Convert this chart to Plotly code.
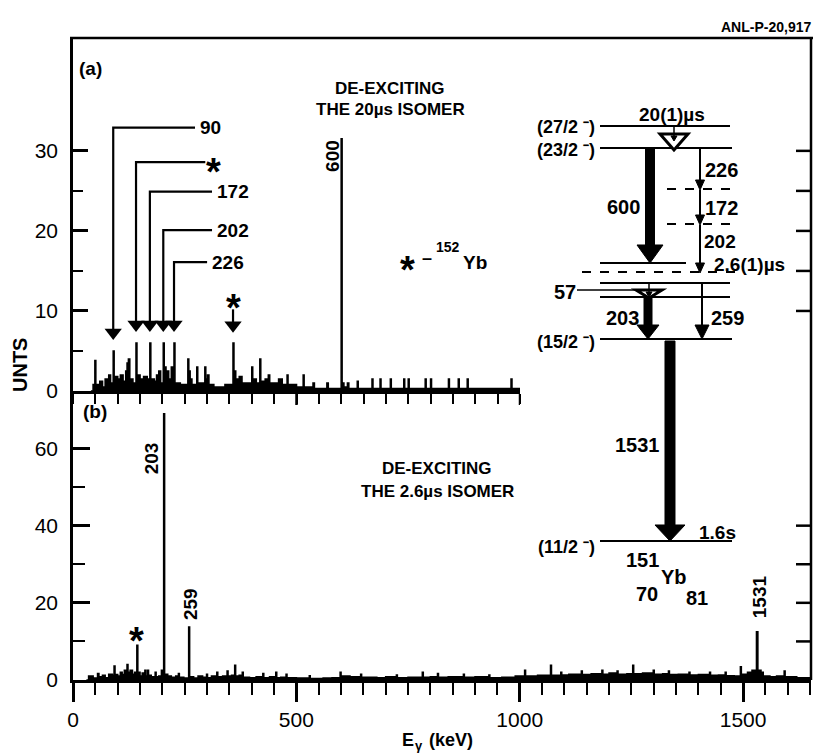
import plotly.graph_objects as go

W, H = 813, 755
def px(x): return x / W
def py(y): return 1 - y / H

FONT = "Liberation Sans, Arial, sans-serif"

# ---------------- data ----------------
# (a) spectrum gated on the 20 us isomer: energy (keV) -> counts (step histogram)
top_energy = [40, 45, 49, 51, 60, 66, 72, 80, 84, 90, 92, 100, 106, 112, 118, 121, 124, 127,
              134, 141, 143, 150, 158, 166, 172, 174, 182, 187, 192, 196, 202, 204, 208, 214,
              220, 223, 226, 228, 240, 257, 259, 262, 266, 277, 279, 295, 297, 301, 304, 315,
              340, 358, 360, 364, 372, 378, 400, 402, 410, 418, 420, 430, 437, 440, 460, 468,
              479, 481, 500, 515, 517, 537, 540, 568, 571, 600, 602, 606, 614, 617, 636, 638,
              669, 671, 687, 689, 710, 712, 740, 742, 750, 752, 788, 790, 800, 802, 840, 842,
              862, 864, 882, 884, 980, 982, 1000]
top_counts = [0, 0.8, 3.8, 0.8, 1.2, 0.5, 1.5, 2.0, 1.0, 5.0, 1.8, 1.5, 2.0, 1.2, 2.5, 3.5, 4.0, 1.5,
              1.0, 6.0, 2.0, 1.5, 1.8, 1.5, 6.0, 1.5, 1.2, 2.0, 2.5, 1.0, 6.0, 3.0, 2.5, 1.5,
              3.0, 2.0, 6.0, 1.0, 0.8, 4.0, 2.5, 1.5, 0.8, 3.0, 1.0, 3.0, 1.5, 2.0, 0.8, 0.5,
              0.8, 6.0, 2.5, 1.5, 1.8, 1.0, 3.0, 1.5, 1.0, 4.0, 1.2, 1.5, 2.0, 1.0, 1.5, 0.8,
              2.0, 0.8, 0.5, 2.0, 0.5, 1.0, 0.3, 1.0, 0.3, 31.5, 1.0, 0.5, 1.0, 0.3, 1.2, 0.3,
              1.5, 0.3, 1.5, 0.3, 1.5, 0.3, 1.5, 0.3, 1.5, 0.3, 1.5, 0.3, 1.5, 0.3, 1.5, 0.3,
              1.5, 0.3, 1.5, 0.3, 1.5, 0.3, 0.3]

# (b) spectrum gated on the 2.6 us isomer
bot_energy = [30, 35, 45, 55, 58, 66, 72, 80, 88, 92, 94, 100, 106, 110, 115, 121, 123, 128, 133,
              138, 143, 145, 150, 155, 161, 163, 167, 169, 175, 184, 186, 192, 198, 203, 205,
              212, 220, 230, 236, 238, 248, 259, 261, 270, 280, 290, 299, 301, 310, 322, 324,
              335, 345, 347, 355, 362, 364, 372, 379, 381, 395, 410, 425, 427, 440, 454, 456,
              465, 477, 479, 500, 529, 531, 560, 580, 598, 600, 620, 644, 646, 680, 700, 724,
              726, 750, 782, 784, 800, 816, 818, 840, 874, 876, 900, 931, 933, 960, 990, 1011,
              1013, 1040, 1069, 1071, 1092, 1094, 1110, 1138, 1140, 1160, 1184, 1186, 1200,
              1218, 1220, 1240, 1253, 1255, 1275, 1299, 1301, 1320, 1333, 1335, 1355, 1379,
              1381, 1400, 1425, 1427, 1445, 1460, 1462, 1480, 1494, 1496, 1510, 1520, 1530,
              1533, 1540, 1545, 1560, 1575, 1592, 1594, 1620, 1652]
bot_counts = [0, 1.0, 0.5, 1.7, 0.8, 1.2, 0.6, 1.5, 1.2, 3.6, 1.4, 1.0, 2.0, 1.4, 2.5, 4.0, 2.0, 2.5, 1.5,
              2.0, 9.0, 2.0, 1.0, 1.8, 2.5, 1.0, 2.5, 1.2, 0.8, 2.0, 0.8, 1.0, 2.5, 69.0, 1.5,
              1.0, 0.7, 1.0, 1.7, 0.7, 0.5, 13.7, 0.8, 0.5, 1.0, 0.7, 1.5, 0.6, 1.0, 2.0, 0.8,
              1.0, 2.3, 1.0, 1.2, 3.8, 1.0, 1.2, 2.0, 0.7, 0.6, 0.8, 1.7, 0.6, 0.8, 2.0, 0.6,
              0.7, 1.5, 0.6, 0.5, 1.1, 0.4, 0.5, 0.6, 2.0, 1.0, 0.8, 1.5, 0.7, 0.6, 0.8, 1.3,
              0.6, 0.7, 2.0, 0.7, 0.8, 1.7, 0.7, 0.8, 1.5, 0.7, 0.8, 1.3, 0.6, 0.7, 1.0, 2.5,
              1.0, 1.2, 3.8, 1.2, 2.0, 1.3, 1.5, 2.3, 1.4, 1.6, 2.5, 1.5, 1.8,
              2.3, 1.5, 1.6, 3.8, 1.6, 1.8, 2.5, 1.5, 1.6, 2.3, 1.4, 1.5, 2.0,
              1.3, 1.4, 2.0, 1.2, 1.3, 2.0, 1.1, 1.0, 3.4, 1.5, 2.0, 2.5, 12.5,
              2.5, 2.0, 1.0, 0.8, 1.0, 2.3, 0.8, 0.6, 0.6]

# labelled lines in (a): label, energy, leader height (counts), leader end (keV), arrow tip (counts)
top_arrow_labels = ["90", "*", "172", "202", "226"]
top_arrow_energy = [90, 141, 172, 202, 226]
top_arrow_level = [32.9, 28.6, 24.9, 20.1, 16.1]
top_arrow_end = [273, 296, 311, 311, 300]
top_arrow_tip = [6.4, 7.4, 7.4, 7.4, 7.4]

yb152_line_a = 358      # 152Yb line marked in (a)
yb152_line_b = 143      # 152Yb line marked in (b)
peak600 = 600
peak203, peak259, peak1531 = 203, 259, 1531

top_yticks = [0, 10, 20, 30]
top_yminor = [5, 15, 25]
top_xmajor = [500, 1000]
top_right_ticks = [10, 15, 20, 25, 30]
bot_yticks = [0, 20, 40, 60]
bot_yminor = [10, 30, 50]
bot_right_ticks = [10, 20, 30, 40]
bot_xticks = [0, 500, 1000, 1500]

fig = go.Figure()

# spectra
fig.add_trace(go.Scatter(x=top_energy, y=top_counts, mode="lines", line=dict(shape="hv", color="black", width=1.6),
                         fill="tozeroy", fillcolor="black", xaxis="x", yaxis="y", showlegend=False, hoverinfo="skip"))
fig.add_trace(go.Scatter(x=bot_energy, y=bot_counts, mode="lines", line=dict(shape="hv", color="black", width=1.6),
                         fill="tozeroy", fillcolor="black", xaxis="x2", yaxis="y2", showlegend=False, hoverinfo="skip"))

ann = []
def add_text(text, x, y, size=20, xanchor="center", yanchor="middle", xref="paper", yref="paper", angle=0, yshift=0, bold=True):
    ann.append(dict(text=("<b>%s</b>" % text) if bold else text, x=x, y=y, xref=xref, yref=yref, showarrow=False,
                    xanchor=xanchor, yanchor=yanchor, textangle=angle, yshift=yshift,
                    font=dict(family=FONT, size=size, color="black")))

# leader arrows in (a)
for lbl, e, lev, end, tip in zip(top_arrow_labels, top_arrow_energy, top_arrow_level, top_arrow_end, top_arrow_tip):
    fig.add_trace(go.Scatter(x=[end, e, e], y=[lev, lev, tip + 1.2], mode="lines", line=dict(color="black", width=2.2),
                             xaxis="x", yaxis="y", showlegend=False, hoverinfo="skip"))
    fig.add_trace(go.Scatter(x=[e], y=[tip + 0.9], mode="markers", marker=dict(symbol="triangle-down", size=15, color="black"),
                             xaxis="x", yaxis="y", showlegend=False, hoverinfo="skip"))
    if lbl == "*":
        add_text("*", end + 18, lev, size=38, xref="x", yref="y", yshift=-10)
    else:
        add_text(lbl, end + 6, lev, size=19, xanchor="left", xref="x", yref="y")

# 152Yb arrow in (a)
fig.add_trace(go.Scatter(x=[yb152_line_a, yb152_line_a], y=[10.2, 8.4], mode="lines", line=dict(color="black", width=2.2),
                         xaxis="x", yaxis="y", showlegend=False, hoverinfo="skip"))
fig.add_trace(go.Scatter(x=[yb152_line_a], y=[8.2], mode="markers", marker=dict(symbol="triangle-down", size=15, color="black"),
                         xaxis="x", yaxis="y", showlegend=False, hoverinfo="skip"))
add_text("*", yb152_line_a, 11.6, size=38, xref="x", yref="y", yshift=-10)
add_text("*", 748, 16.4, size=38, xref="x", yref="y", yshift=-10)
add_text("–", 792, 16.6, size=18, xref="x", yref="y")
add_text("152", 808, 18.0, size=14, xanchor="left", xref="x", yref="y")
add_text("Yb", 867, 16.1, size=19, xanchor="left", xref="x", yref="y")
add_text("600", peak600 - 20, 29.4, size=19, xref="x", yref="y", angle=-90)

# labels in (b)
add_text("203", peak203 - 28, 57.5, size=19, xref="x2", yref="y2", angle=-90)
add_text("259", peak259 + 4, 19.8, size=19, xref="x2", yref="y2", angle=-90)
add_text("1531", peak1531 + 5, 21.5, size=19, xref="x2", yref="y2", angle=-90)
add_text("*", yb152_line_b, 12.6, size=38, xref="x2", yref="y2", yshift=-10)

# panel texts
add_text("ANL-P-20,917", px(813), py(27), size=14, xanchor="right")
add_text("(a)", px(90), py(68), size=19)
add_text("DE-EXCITING", px(390), py(88), size=17)
add_text("THE 20µs ISOMER", px(390), py(109), size=17)
add_text("(b)", px(95), py(411), size=19)
add_text("DE-EXCITING", px(437), py(468), size=17)
add_text("THE 2.6µs ISOMER", px(437), py(491), size=17)
add_text("UNTS", px(20), py(365), size=20, angle=-90)
add_text("E", px(408), py(740), size=18)
add_text("γ", px(419), py(745), size=13)
add_text("(keV)", px(427), py(740), size=18, xanchor="left")

# ---------------- level scheme (diagram) ----------------
shapes = []
def hline(x0, x1, y, dash="solid", w=2.2):
    shapes.append(dict(type="line", xref="paper", yref="paper", x0=px(x0), x1=px(x1), y0=py(y), y1=py(y),
                       line=dict(color="black", width=w, dash=dash)))
def vline(x, y0, y1, w=2.0):
    shapes.append(dict(type="line", xref="paper", yref="paper", x0=px(x), x1=px(x), y0=py(y0), y1=py(y1),
                       line=dict(color="black", width=w)))
def poly(pts, fill="black", w=1):
    path = "M " + " L ".join("%f,%f" % (px(a), py(b)) for a, b in pts) + " Z"
    shapes.append(dict(type="path", xref="paper", yref="paper", path=path, fillcolor=fill,
                       line=dict(color="black", width=w)))
def thick_arrow(x, y0, y1, sw, hw, hl):
    poly([(x - sw / 2, y0), (x + sw / 2, y0), (x + sw / 2, y1 - hl), (x + hw / 2, y1 - hl), (x, y1),
          (x - hw / 2, y1 - hl), (x - sw / 2, y1 - hl)])
def thin_arrow(x, y0, y1, hw=9, hl=10):
    vline(x, y0, y1 - hl + 1)
    poly([(x - hw / 2, y1 - hl), (x + hw / 2, y1 - hl), (x, y1)])
def hollow_arrow(x, y0, y1, hw):
    poly([(x - hw / 2, y0 + 8), (x + hw / 2, y0 + 8), (x, y1)], fill="white", w=3)
    vline(x, y0, y0 + 12, w=1.5)
    poly([(x - 3, y0 + 10), (x + 3, y0 + 10), (x, y0 + 15)])

hline(600, 730, 126)
hline(600, 732, 148)
hline(600, 686, 263)
hline(582, 740, 272, dash="dash")
hline(667, 730, 189, dash="dash")
hline(667, 730, 224, dash="dash")
hline(600, 730, 283)
hline(600, 730, 297)
hline(600, 732, 339)
hline(600, 732, 541)
hline(577, 640, 290, w=1.6)

hollow_arrow(674, 126, 150, 28)
thick_arrow(650, 148, 263, 9, 26, 18)
thin_arrow(700, 148, 190)
thin_arrow(700, 190, 225)
thin_arrow(700, 225, 273)
hollow_arrow(649, 282, 298, 26)
thick_arrow(648, 297, 339, 8, 22, 14)
thin_arrow(702, 283, 339, hw=14, hl=14)
thick_arrow(670, 341, 541, 10, 30, 16)

add_text("20(1)µs", px(672), py(114), size=19)
add_text("(27/2 ⁻)", px(597), py(127), size=18, xanchor="right")
add_text("(23/2 ⁻)", px(597), py(150), size=18, xanchor="right")
add_text("(15/2 ⁻)", px(597), py(342), size=18, xanchor="right")
add_text("(11/2 ⁻)", px(597), py(547), size=18, xanchor="right")
add_text("600", px(623), py(207))
add_text("226", px(721), py(170))
add_text("172", px(721), py(208))
add_text("202", px(720), py(241), size=19)
add_text("2.6(1)µs", px(749), py(264), size=19)
add_text("57", px(565), py(292))
add_text("203", px(622), py(318))
add_text("259", px(727), py(318))
add_text("1531", px(637), py(445))
add_text("1.6s", px(717), py(532), size=19)
add_text("151", px(642), py(560))
add_text("Yb", px(674), py(577))
add_text("70", px(647), py(594))
add_text("81", px(697), py(598))

# frame
shapes.append(dict(type="line", xref="paper", yref="paper", x0=px(70), x1=1, y0=py(38), y1=py(38),
                   line=dict(color="black", width=2.5)))
shapes.append(dict(type="line", xref="paper", yref="paper", x0=px(811), x1=px(811), y0=py(38), y1=py(680),
                   line=dict(color="black", width=2.5)))
# right-hand mirror ticks and long ticks of the (a) energy axis
for v in top_right_ticks:
    shapes.append(dict(type="line", xref="paper", yref="y", x0=px(796), x1=px(811), y0=v, y1=v,
                       line=dict(color="black", width=2.5)))
for v in bot_right_ticks:
    shapes.append(dict(type="line", xref="paper", yref="y2", x0=px(796), x1=px(811), y0=v, y1=v,
                       line=dict(color="black", width=2.5)))
for v in top_xmajor:
    shapes.append(dict(type="line", xref="x", yref="paper", x0=v, x1=v, y0=py(391), y1=py(405),
                       line=dict(color="black", width=2.5)))

tickfont = dict(family=FONT, size=21, color="black")
common = dict(showgrid=False, zeroline=False, linecolor="black", linewidth=2.5, tickcolor="black", tickwidth=2.5,
              tickfont=tickfont, automargin=False)

fig.update_layout(
    width=W, height=H, autosize=False, margin=dict(l=0, r=0, t=0, b=0, pad=0, autoexpand=False),
    paper_bgcolor="white", plot_bgcolor="rgba(0,0,0,0)", showlegend=False,
    xaxis=dict(domain=[px(73), px(520)], range=[0, 1000], anchor="y", showline=True, ticks="",
               tickmode="array", tickvals=[], showticklabels=False,
               minor=dict(tickmode="linear", dtick=50, tick0=0, ticklen=10, tickwidth=2.2, ticks="outside",
                          tickcolor="black"), **common),
    yaxis=dict(domain=[py(391), py(38)], range=[0, 44.1], anchor="x", showline=True, ticks="inside",
               tickvals=top_yticks, ticktext=[str(v) for v in top_yticks], ticklen=15, ticklabelstandoff=8,
               minor=dict(tickvals=top_yminor, ticklen=10, tickwidth=2.2, ticks="inside", tickcolor="black"), **common),
    xaxis2=dict(domain=[px(73), px(811)], range=[0, 1652], anchor="y2", showline=True, ticks="outside",
                tickvals=bot_xticks, ticktext=[str(v) for v in bot_xticks], ticklen=19,
                minor=dict(dtick=50, tick0=0, ticklen=12, tickwidth=2.2, ticks="outside", tickcolor="black"), **common),
    yaxis2=dict(domain=[py(680), py(391)], range=[0, 74.9], anchor="x2", showline=True, ticks="inside",
                tickvals=bot_yticks, ticktext=[str(v) for v in bot_yticks], ticklen=17, ticklabelstandoff=8,
                minor=dict(tickvals=bot_yminor, ticklen=12, tickwidth=2.2, ticks="inside", tickcolor="black"), **common),
    annotations=ann, shapes=shapes,
)

fig.write_html("out.html")
